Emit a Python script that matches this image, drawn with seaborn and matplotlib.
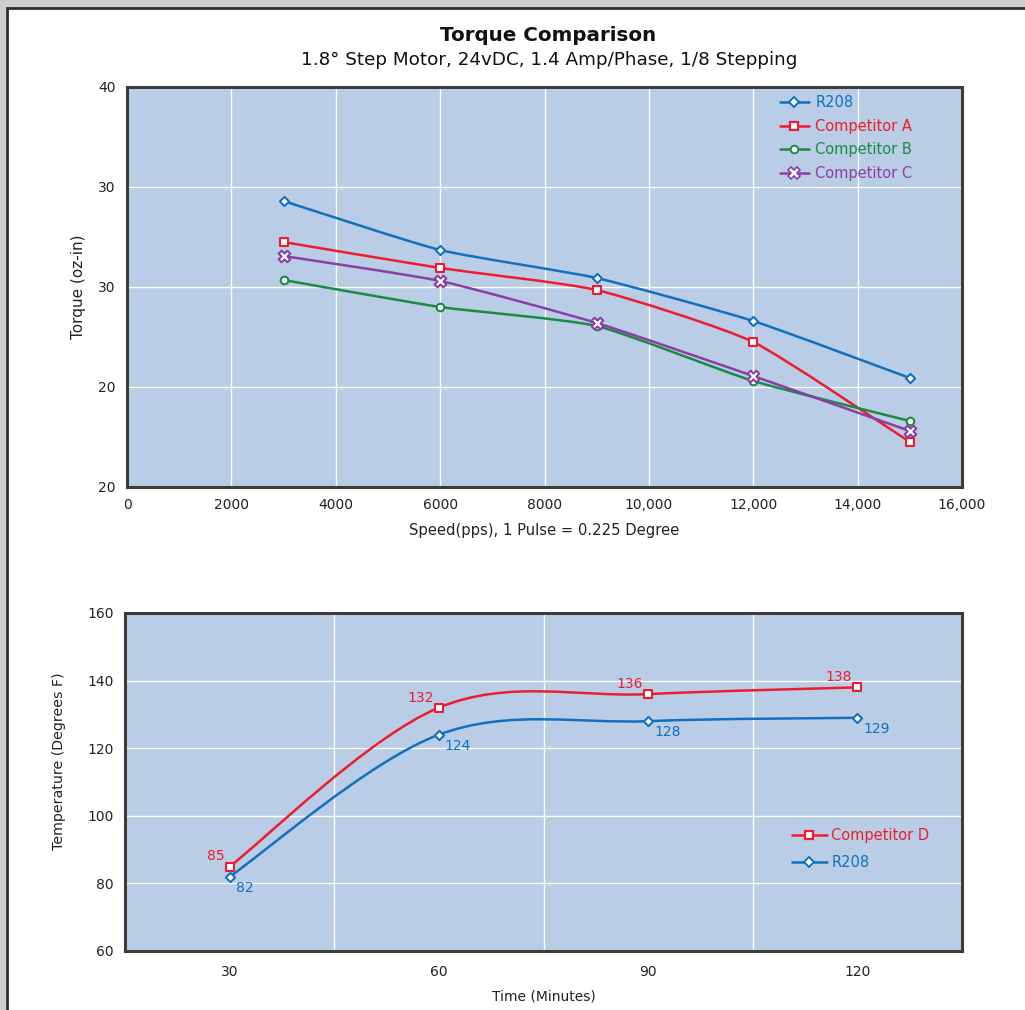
import numpy as np
import pandas as pd
import matplotlib
matplotlib.use("Agg")
import matplotlib.pyplot as plt
import seaborn as sns
from matplotlib.path import Path
from matplotlib.patches import PathPatch, Rectangle
from matplotlib.lines import Line2D

# --- torque data (speed in pps) ---
speed = [3000, 6000, 9000, 12000, 15000]
torque_r208 = [28.6, 23.7, 20.9, 16.6, 10.9]
torque_comp_a = [24.5, 21.9, 19.7, 14.5, 4.5]
torque_comp_b = [20.7, 18.0, 16.1, 10.6, 6.6]
torque_comp_c = [23.1, 20.6, 16.4, 11.1, 5.6]
torque_yticks = [0, 10, 20, 30, 40]
torque_ylabels = ["20", "20", "30", "30", "40"]
speed_ticks = [0, 2000, 4000, 6000, 8000, 10000, 12000, 14000, 16000]
speed_labels = ["0", "2000", "4000", "6000", "8000", "10,000", "12,000", "14,000", "16,000"]

# --- temperature data ---
minutes = [30, 60, 90, 120]
temp_comp_d = [85, 132, 136, 138]
temp_r208 = [82, 124, 128, 129]

BLUE = "#1370bd"
RED = "#ee1c2e"
GREEN = "#1c8a44"
PURPLE = "#8b3fa3"
BG = "#b9cde6"
DARK = "#3c3c3c"
TXT = "#222222"


def smooth_path(x, y, k):
    # smoothed line like the spreadsheet one: cubic bezier through each point
    pts = np.column_stack([x, y]).astype(float)
    n = len(pts)
    verts = [pts[0]]
    codes = [Path.MOVETO]
    for i in range(n - 1):
        p0 = pts[i - 1] if i > 0 else pts[i]
        p1, p2 = pts[i], pts[i + 1]
        p3 = pts[i + 2] if i + 2 < n else pts[i + 1]
        verts += [p1 + (p2 - p0) * k, p2 - (p3 - p1) * k, p2]
        codes += [Path.CURVE4] * 3
    return Path(verts, codes)


def draw_series(ax, x, y, color, marker, ms, k=1 / 6):
    ax.add_patch(PathPatch(smooth_path(x, y, k), facecolor="none", edgecolor=color,
                           lw=1.8, zorder=3))
    df = pd.DataFrame({"x": x, "y": y})
    sns.scatterplot(data=df, x="x", y="y", ax=ax, marker=marker, s=ms,
                    color="white", edgecolor=color, linewidth=1.5, zorder=4)


def style_axes(ax):
    ax.set_facecolor(BG)
    for sp in ax.spines.values():
        sp.set_color(DARK)
        sp.set_linewidth(2.2)
    ax.tick_params(which="major", direction="in", length=7, width=2, color=DARK,
                   labelsize=10, labelcolor=TXT, pad=8)
    ax.grid(True, which="major", color="white", lw=1)
    ax.set_axisbelow(True)


sns.set_style("white")
plt.rcParams["font.family"] = ["DejaVu Sans"]

fig = plt.figure(figsize=(10.25, 10.10), dpi=100)
fig.patch.set_facecolor("#cdcdcd")
fig.patches.append(Rectangle((7 / 1025, -0.05), 1.1, 1 - 8 / 1010 + 0.05,
                             transform=fig.transFigure, facecolor="white",
                             edgecolor="#2e2e2e", lw=2, zorder=-5))

fig.text(0.535, 0.965, "Torque Comparison", ha="center", va="center",
         fontsize=14.3, fontweight="bold", color="#111111")
fig.text(0.536, 0.941, "1.8° Step Motor, 24vDC, 1.4 Amp/Phase, 1/8 Stepping",
         ha="center", va="center", fontsize=13.2, color="#111111")

# ---------------- top chart ----------------
ax1 = fig.add_axes([127 / 1025, 1 - 487 / 1010, 835 / 1025, 400 / 1010])
style_axes(ax1)
draw_series(ax1, speed, torque_r208, BLUE, "D", 22, k=1 / 11)
draw_series(ax1, speed, torque_comp_a, RED, "s", 30, k=1 / 11)
draw_series(ax1, speed, torque_comp_b, GREEN, "o", 30, k=1 / 11)
draw_series(ax1, speed, torque_comp_c, PURPLE, "X", 70, k=1 / 11)
ax1.set_xlim(0, 16000)
ax1.set_ylim(0, 40)
ax1.set_xticks(speed_ticks)
ax1.set_xticklabels(speed_labels)
ax1.set_yticks(torque_yticks)
ax1.set_yticklabels(torque_ylabels)
ax1.set_xlabel("Speed(pps), 1 Pulse = 0.225 Degree", fontsize=10.6, color=TXT, labelpad=8)
ax1.set_ylabel("Torque (oz-in)", fontsize=11, color=TXT)
ax1.yaxis.set_label_coords(-0.049, 0.5)

handles1 = [
    Line2D([], [], color=BLUE, lw=1.8, marker="D", ms=5, mfc="white", mew=1.4),
    Line2D([], [], color=RED, lw=1.8, marker="s", ms=5.5, mfc="white", mew=1.6),
    Line2D([], [], color=GREEN, lw=1.8, marker="o", ms=5.5, mfc="white", mew=1.4),
    Line2D([], [], color=PURPLE, lw=1.8, marker="X", ms=8, mfc="white", mew=1.2),
]
ax1.legend(handles1, ["R208", "Competitor A", "Competitor B", "Competitor C"],
           loc="upper left", bbox_to_anchor=(0.766, 1.013), frameon=False,
           fontsize=10.5, labelcolor="linecolor", handlelength=2.0,
           handletextpad=0.45, labelspacing=0.6, numpoints=1)

# ---------------- bottom chart ----------------
ax2 = fig.add_axes([125 / 1025, 1 - 951 / 1010, 837 / 1025, 338 / 1010])
style_axes(ax2)
draw_series(ax2, minutes, temp_comp_d, RED, "s", 30)
draw_series(ax2, minutes, temp_r208, BLUE, "D", 22)
ax2.set_xlim(15, 135)
ax2.set_ylim(60, 160)
ax2.set_yticks(range(60, 161, 20))
ax2.set_xticks([45, 75, 105])
ax2.set_xticklabels([])
ax2.set_xticks(minutes, minor=True)
ax2.set_xticklabels([str(m) for m in minutes], minor=True)
ax2.tick_params(axis="x", which="minor", length=0, labelsize=10, labelcolor=TXT, pad=10)
ax2.set_xlabel("Time (Minutes)", fontsize=10, color=TXT, labelpad=8)
ax2.set_ylabel("Temperature (Degrees F)", fontsize=10.2, color=TXT)
ax2.yaxis.set_label_coords(-0.0705, 0.56)

for xv, yv in zip(minutes, temp_comp_d):
    ax2.annotate(str(yv), (xv, yv), xytext=(-5, 3), textcoords="offset pixels",
                 ha="right", va="bottom", color=RED, fontsize=10)
for xv, yv in zip(minutes, temp_r208):
    ax2.annotate(str(yv), (xv, yv), xytext=(6, -4), textcoords="offset pixels",
                 ha="left", va="top", color=BLUE, fontsize=10)

handles2 = [
    Line2D([], [], color=RED, lw=1.8, marker="s", ms=5.5, mfc="white", mew=1.6),
    Line2D([], [], color=BLUE, lw=1.8, marker="D", ms=5, mfc="white", mew=1.4),
]
ax2.legend(handles2, ["Competitor D", "R208"], loc="upper left",
           bbox_to_anchor=(0.781, 0.403), frameon=False, fontsize=10.5,
           labelcolor="linecolor", handlelength=2.4, handletextpad=0.3,
           labelspacing=0.82, numpoints=1)

fig.savefig("out.png", dpi=100, facecolor=fig.get_facecolor())
